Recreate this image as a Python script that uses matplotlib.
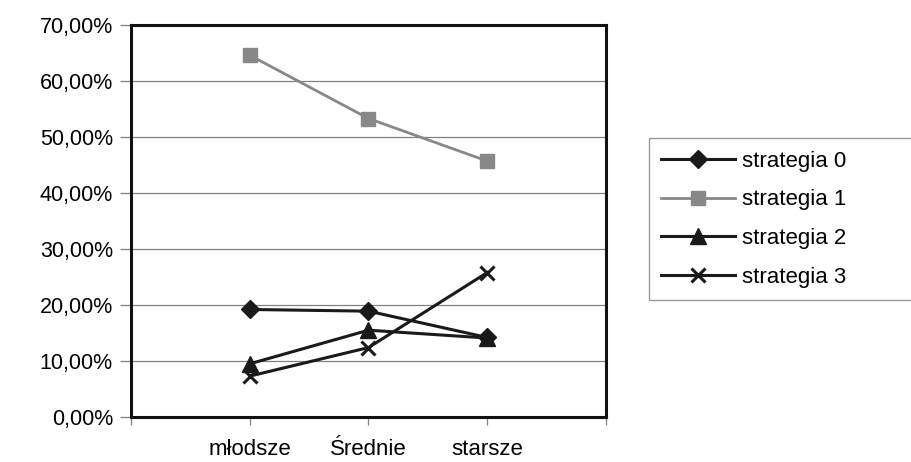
import matplotlib.pyplot as plt
from matplotlib.ticker import FuncFormatter

plt.rcParams['font.family'] = ['Liberation Sans', 'DejaVu Sans']

kategorie = ['młodsze', 'Średnie', 'starsze']
strategia_0 = [19.2, 18.9, 14.2]
strategia_1 = [64.6, 53.3, 45.7]
strategia_2 = [9.5, 15.5, 14.1]
strategia_3 = [7.3, 12.4, 25.8]
etykiety = ['strategia 0', 'strategia 1', 'strategia 2', 'strategia 3']

x = [1, 2, 3]

fig = plt.figure(figsize=(9.12, 4.62), dpi=100)
ax = fig.add_axes([131 / 912, 45 / 462, 475 / 912, 392 / 462])

ax.plot(x, strategia_0, color='#1a1a1a', lw=2.2, marker='D', ms=9, label=etykiety[0], zorder=3)
ax.plot(x, strategia_1, color='#888888', lw=2.0, marker='s', ms=10, label=etykiety[1], zorder=3)
ax.plot(x, strategia_2, color='#1a1a1a', lw=2.2, marker='^', ms=11, label=etykiety[2], zorder=3)
ax.plot(x, strategia_3, color='#1a1a1a', lw=2.2, marker='x', ms=10, mew=2.2, label=etykiety[3], zorder=3)

ax.set_xlim(0, 4)
ax.set_ylim(0, 70)
ax.set_yticks(range(0, 71, 10))
ax.yaxis.set_major_formatter(FuncFormatter(lambda v, p: ('%.2f%%' % v).replace('.', ',')))
ax.set_xticks([0, 1, 2, 3, 4])
ax.set_xticklabels([''] + kategorie + [''])

ax.grid(axis='y', color='#808080', lw=0.9)
ax.set_axisbelow(True)
for s in ax.spines.values():
    s.set_linewidth(2.2)
    s.set_color('#111111')

ax.tick_params(axis='y', length=8, width=0.9, color='#808080', pad=5, labelsize=15.5)
ax.tick_params(axis='x', length=6, width=0.9, color='#808080', pad=10, labelsize=16)

fig.legend(loc='upper left', bbox_to_anchor=(649 / 912, 1 - 143 / 462, 280 / 912, 0.01),
           mode='expand', frameon=True, fancybox=False, edgecolor='#808080', fontsize=16,
           handlelength=3.3, labelspacing=0.8, borderaxespad=0, borderpad=0.55,
           handletextpad=0.35)

fig.savefig('out.png', dpi=100)
